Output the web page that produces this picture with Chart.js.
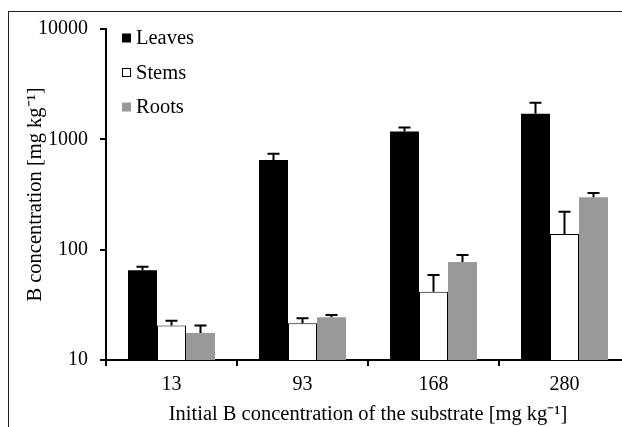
<!DOCTYPE html>
<html>
<head>
<meta charset="utf-8">
<script src="https://cdn.jsdelivr.net/npm/chart.js@4"></script>
<style>
  body { margin: 0; overflow: hidden; background: #fff; }
  #wrap { position: relative; width: 622px; height: 427px; overflow: hidden; }
  #frame { position: absolute; left: 8px; top: 11px; width: 700px; height: 500px; border: 1px solid #222; }
  #myChart { position: absolute; left: 0; top: 0; }
</style>
</head>
<body>
<div id="wrap">
  <div id="frame"></div>
  <canvas id="myChart" width="640" height="427"></canvas>
</div>
<script>
const categories = ['13', '93', '168', '280'];
const leaves = [65, 650, 1180, 1710];
const leavesErr = [5, 92, 97, 440];
const stems = [20.5, 21.5, 41.6, 139];
const stemsErr = [2.2, 2.4, 17.4, 82];
const roots = [17.6, 24.4, 77.3, 299];
const rootsErr = [2.9, 1.2, 12.2, 27];
const yTicks = [10, 100, 1000, 10000];

const serif = "'Liberation Serif', 'Times New Roman', serif";

// upper error bars, T shaped
const errorBars = {
  id: 'errorBars',
  afterDatasetsDraw(chart) {
    const ctx = chart.ctx;
    const y = chart.scales.y;
    ctx.save();
    ctx.strokeStyle = '#000';
    ctx.lineWidth = 2;
    chart.data.datasets.forEach((ds, i) => {
      chart.getDatasetMeta(i).data.forEach((bar, j) => {
        const top = y.getPixelForValue(ds.data[j] + ds.err[j]);
        ctx.beginPath();
        ctx.moveTo(bar.x, bar.y);
        ctx.lineTo(bar.x, top);
        ctx.moveTo(bar.x - 6, top);
        ctx.lineTo(bar.x + 6, top);
        ctx.stroke();
      });
    });
    ctx.restore();
  }
};

// legend inside the plot, stacked
const boxLegend = {
  id: 'boxLegend',
  afterDraw(chart) {
    const ctx = chart.ctx;
    ctx.save();
    ctx.font = '20.5px ' + serif;
    ctx.textBaseline = 'middle';
    chart.data.datasets.forEach((ds, i) => {
      const cy = 38 + i * 34.5;
      ctx.fillStyle = ds.backgroundColor;
      ctx.fillRect(122, cy - 4.5, 9, 9);
      if (ds.borderWidth) {
        ctx.strokeStyle = '#000';
        ctx.lineWidth = 1;
        ctx.strokeRect(122.5, cy - 4, 8, 8);
      }
      ctx.fillStyle = '#000';
      ctx.fillText(ds.label, 136, cy + 1);
    });
    ctx.restore();
  }
};

new Chart(document.getElementById('myChart'), {
  type: 'bar',
  data: {
    labels: categories,
    datasets: [
      { label: 'Leaves', data: leaves, err: leavesErr, backgroundColor: '#000', borderWidth: 0 },
      { label: 'Stems', data: stems, err: stemsErr, backgroundColor: '#fff', borderColor: '#000', borderWidth: 1 },
      { label: 'Roots', data: roots, err: rootsErr, backgroundColor: '#999', borderWidth: 0 }
    ]
  },
  options: {
    responsive: false,
    devicePixelRatio: 1,
    animation: false,
    layout: { padding: { left: 0, top: 29, right: 10, bottom: 0 } },
    datasets: { bar: { categoryPercentage: 0.664, barPercentage: 1.0 } },
    plugins: { legend: { display: false }, tooltip: { enabled: false } },
    scales: {
      x: {
        afterFit: (s) => { s.height = 67; },
        grid: { drawOnChartArea: false, tickLength: 6, tickColor: '#000', lineWidth: 2 },
        border: { color: '#000', width: 2 },
        ticks: { color: '#000', font: { family: serif, size: 20 }, padding: 7 },
        title: {
          display: true,
          text: 'Initial B concentration of the substrate [mg kg⁻¹]',
          color: '#000',
          font: { family: serif, size: 20.5 },
          padding: { top: 0, bottom: 0 }
        }
      },
      y: {
        type: 'logarithmic',
        min: 10,
        max: 10000,
        afterFit: (s) => { s.width = 106; },
        afterBuildTicks: (s) => { s.ticks = yTicks.map(v => ({ value: v })); },
        grid: { drawOnChartArea: false, tickLength: 6, tickColor: '#000', lineWidth: 2 },
        border: { color: '#000', width: 2 },
        ticks: {
          color: '#000',
          font: { family: serif, size: 20 },
          padding: 12,
          callback: (v) => yTicks.includes(v) ? String(v) : ''
        },
        title: {
          display: true,
          text: 'B concentration [mg kg⁻¹]',
          color: '#000',
          font: { family: serif, size: 20.5 },
          padding: { top: 23, bottom: 0 }
        }
      }
    }
  },
  plugins: [errorBars, boxLegend]
});
</script>
</body>
</html>
